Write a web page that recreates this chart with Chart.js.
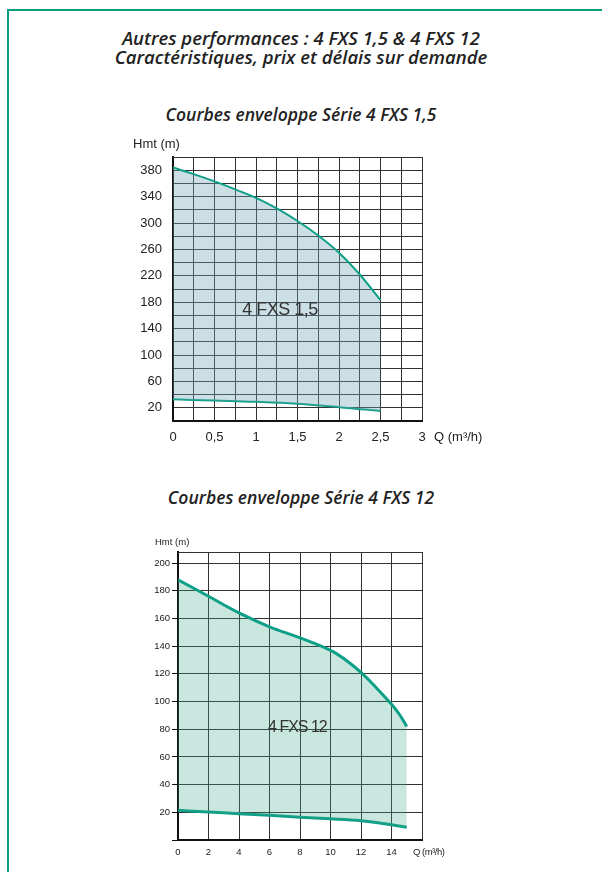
<!DOCTYPE html>
<html>
<head>
<meta charset="utf-8">
<script src="https://cdn.jsdelivr.net/npm/chart.js@4.4.1/dist/chart.umd.min.js"></script>
<style>
  body { margin: 0; background: #fff; width: 602px; height: 872px; position: relative; overflow: hidden; }
  .frame { position: absolute; left: 7px; top: 9px; width: 620px; height: 900px; border-top: 2.5px solid #0a9d80; border-left: 2.5px solid #0a9d80; }
  .txt { position: absolute; left: 0; width: 602px; text-align: center; font-family: "Open Sans", sans-serif; font-style: italic; font-weight: 600; font-size: 18.5px; line-height: 20px; color: #222; }
  canvas { position: absolute; left: 0; }
</style>
</head>
<body>
<div class="frame"></div>
<div class="txt" style="top:28px">Autres performances : 4 FXS 1,5 &amp; 4 FXS 12</div>
<div class="txt" style="top:47px">Caractéristiques, prix et délais sur demande</div>
<div class="txt" style="top:104px;font-size:17.5px">Courbes enveloppe Série 4 FXS 1,5</div>
<div class="txt" style="top:487px;font-size:17.5px">Courbes enveloppe Série 4 FXS 12</div>
<canvas id="chart1" width="602" height="330" style="top:130px"></canvas>
<canvas id="chart2" width="602" height="352" style="top:520px"></canvas>
<script>
// 4 FXS 1,5 - débit (m3/h) / hauteur (m)
const debitHaut15 = [0, 0.25, 0.5, 0.75, 1, 1.25, 1.5, 1.75, 2, 2.25, 2.5];
const hmtHaut15 = [384, 374, 363, 351, 338, 322, 303, 281, 255, 222, 183];
const debitBas15 = [0, 0.5, 1, 1.5, 2, 2.5];
const hmtBas15 = [33, 31, 29, 26, 21, 15];

// 4 FXS 12
const debitHaut12 = [0, 2, 4, 6, 8, 10, 11, 12, 13, 14, 14.5, 15];
const hmtHaut12 = [188, 176, 164, 154, 146, 137, 130, 121, 110, 98, 91, 82];
const debitBas12 = [0, 2, 4, 6, 8, 10, 12, 13, 14, 15];
const hmtBas12 = [21.5, 20.2, 19, 17.8, 16.5, 15.3, 13.9, 12.7, 11, 9.2];

const vert = '#0e9f87';

function pts(xs, ys) {
    return xs.map(function(x, i) { return {x: x, y: ys[i]}; });
}

// textes dans le graphique (titres d'axes + nom de la pompe)
const textes = {
    id: 'textes',
    afterDraw(chart, args, o) {
        const ctx = chart.ctx;
        const ca = chart.chartArea;
        const sx = chart.scales.x, sy = chart.scales.y;
        ctx.save();
        ctx.fillStyle = '#222';
        ctx.textBaseline = 'middle';
        // top frame line
        ctx.strokeStyle = '#333';
        ctx.lineWidth = 1;
        ctx.beginPath();
        ctx.moveTo(ca.left, ca.top + 0.5);
        ctx.lineTo(ca.right, ca.top + 0.5);
        ctx.stroke();
        ctx.font = o.axisFont + 'px "Liberation Sans", Arial';
        ctx.textAlign = 'left';
        ctx.fillText('Hmt (m)', ca.left + o.hmtDx, ca.top + o.hmtDy);
        if (o.qSpacing) ctx.letterSpacing = o.qSpacing;
        ctx.fillText('Q (m³/h)', ca.right + o.qDx, ca.bottom + o.qDy);
        ctx.letterSpacing = o.labelSpacing;
        ctx.font = o.labelFont + 'px "Liberation Sans", Arial';
        ctx.fillStyle = '#333';
        ctx.textAlign = 'center';
        ctx.fillText(o.label, sx.getPixelForValue(o.lx), sy.getPixelForValue(o.ly));
        ctx.restore();
    }
};

function fixY(w) {
    return function(s) { s.width = w; s.paddingTop = 0; s.paddingBottom = 0; };
}
function fixX(h) {
    return function(s) { s.height = h; s.paddingLeft = 0; s.paddingRight = 0; };
}

new Chart(document.getElementById('chart1'), {
    type: 'line',
    data: {
        datasets: [{
            data: pts(debitHaut15, hmtHaut15),
            borderColor: vert,
            borderWidth: 2,
            backgroundColor: 'rgba(110,165,180,0.36)',
            fill: '+1',
            pointRadius: 0,
            tension: 0.4
        }, {
            data: pts(debitBas15, hmtBas15),
            borderColor: vert,
            borderWidth: 2,
            fill: false,
            pointRadius: 0,
            tension: 0.4
        }]
    },
    options: {
        responsive: false,
        animation: false,
        layout: { padding: { left: 133, right: 180, top: 27, bottom: 9 } },
        plugins: {
            legend: { display: false },
            tooltip: { enabled: false },
            textes: { axisFont: 13, hmtDx: -40, hmtDy: -13, qDx: 12, qDy: 16, label: '4 FXS 1,5', lx: 1.29, ly: 168, labelFont: 18, labelSpacing: '-0.5px' }
        },
        scales: {
            x: {
                type: 'linear', min: 0, max: 3,
                afterFit: fixX(30),
                grid: { color: '#333', lineWidth: 1, drawTicks: false },
                border: { color: '#111', width: 2 },
                ticks: {
                    stepSize: 0.25, autoSkip: false, maxRotation: 0, padding: 9,
                    color: '#222', font: { family: '"Liberation Sans", Arial', size: 13 },
                    callback: function(v) { return (Math.round(v * 4) % 2 === 0) ? String(v).replace('.', ',') : ''; }
                }
            },
            y: {
                min: 0, max: 400,
                afterFit: fixY(40),
                grid: { color: '#333', lineWidth: 1, drawTicks: false },
                border: { color: '#111', width: 2 },
                ticks: {
                    stepSize: 20, autoSkip: false, padding: 11,
                    color: '#222', font: { family: '"Liberation Sans", Arial', size: 13 },
                    callback: function(v) { return (v % 40 === 20) ? v : ''; }
                }
            }
        }
    },
    plugins: [textes]
});

new Chart(document.getElementById('chart2'), {
    type: 'line',
    data: {
        datasets: [{
            data: pts(debitHaut12, hmtHaut12),
            borderColor: vert,
            borderWidth: 3,
            backgroundColor: 'rgba(60,170,140,0.28)',
            fill: '+1',
            pointRadius: 0,
            tension: 0.4
        }, {
            data: pts(debitBas12, hmtBas12),
            borderColor: vert,
            borderWidth: 3,
            fill: false,
            pointRadius: 0,
            tension: 0.4
        }]
    },
    options: {
        responsive: false,
        animation: false,
        layout: { padding: { left: 143, right: 180, top: 32, bottom: 7 } },
        plugins: {
            legend: { display: false },
            tooltip: { enabled: false },
            textes: { axisFont: 9.5, hmtDx: -23, hmtDy: -10, qDx: -9, qDy: 12, qSpacing: '-0.5px', label: '4 FXS 12', lx: 7.83, ly: 81, labelFont: 16, labelSpacing: '-1px' }
        },
        scales: {
            x: {
                type: 'linear', min: 0, max: 16,
                afterFit: fixX(25),
                grid: { color: '#333', lineWidth: 1, drawTicks: false },
                border: { color: '#111', width: 2 },
                ticks: {
                    stepSize: 2, autoSkip: false, maxRotation: 0, padding: 7,
                    color: '#222', font: { family: '"Liberation Sans", Arial', size: 9.5 },
                    callback: function(v) { return v < 16 ? v : ''; }
                }
            },
            y: {
                min: 0, max: 208,
                afterFit: fixY(35),
                grid: { color: '#333', lineWidth: 1, drawTicks: true, tickLength: 6, tickColor: '#111' },
                border: { color: '#111', width: 2 },
                ticks: {
                    stepSize: 20, autoSkip: false, padding: 2, includeBounds: false,
                    color: '#222', font: { family: '"Liberation Sans", Arial', size: 9.5 },
                    callback: function(v) { return (v > 0 && v % 20 === 0) ? v : ''; }
                }
            }
        }
    },
    plugins: [textes]
});
</script>
</body>
</html>
